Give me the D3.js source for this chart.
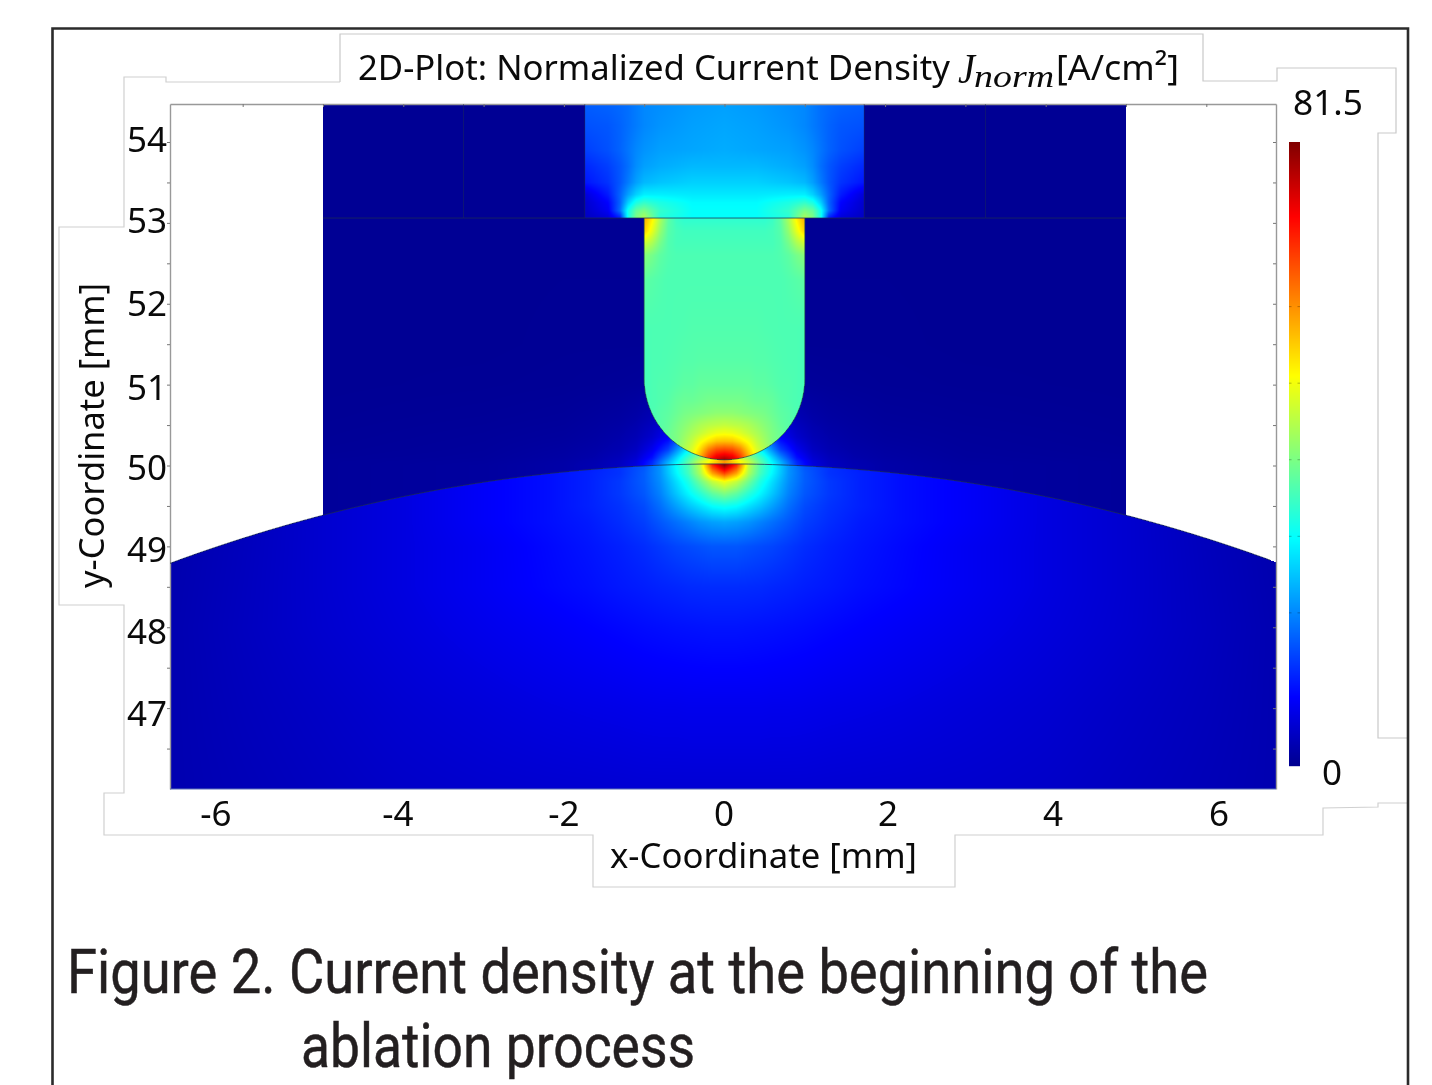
<!DOCTYPE html>
<html><head><meta charset="utf-8">
<script src="https://cdnjs.cloudflare.com/ajax/libs/d3/7.8.5/d3.min.js"></script>
<style>
html,body{margin:0;padding:0;background:#fff;width:1432px;height:1085px;overflow:hidden}
#wrap{position:relative;width:1432px;height:1085px}
canvas{position:absolute;filter:blur(0.7px)}
svg{position:absolute;left:0;top:0}
text{fill:#0a0a0a;font-family:"Noto Sans",sans-serif}
</style></head><body><div id="wrap"></div>
<script>
// ---------- labels ----------
const titleText = "2D-Plot: Normalized Current Density";
const titleUnit = "[A/cm²]";
const xAxisTitle = "x-Coordinate [mm]";
const yAxisTitle = "y-Coordinate [mm]";
const captionLines = ["Figure 2. Current density at the beginning of the", "ablation process"];
const xTickLabels = [-6,-4,-2,0,2,4,6];
const yTickLabels = [54,53,52,51,50,49,48,47];
const colorbarMax = 81.5, colorbarMin = 0;
const colorbarTicks = [20,30,40,50,60];

// ---------- geometry (mm) ----------
const xDomain = [-6.905, 6.868];
const yDomain = [46.0, 54.47];
const blockHalfWidth = 5, chamberHalfWidth = 1.74, innerWallX = 3.25;
const shelfY = 53.06, pinHalfWidth = 1, pinTipY = 50.07;
const surfaceRadius = 20, surfaceTopY = 50.02;

// ---------- estimated current density J, right half (field is mirrored) ----------
const bodyX = [0,.15,.3,.45,.6,.8,1,1.3,1.7,2.2,3,4,5,6,6.9];
const bodyY = [50,49.9,49.8,49.65,49.5,49.3,49,48.5,48,47,46];
const bodyJ = [
 [80,68,46,36,30,21,16,13,11,9.5,8,6,5,3.5,2.4],
 [66,58,44,35,29,21,16.5,13,11.5,10,8.5,6.5,5,3.5,2.4],
 [50,46,39,32,27,20.5,16.5,13.5,11.5,10,8.5,6.5,5,3.5,2.4],
 [40,37.5,33,29,25,19.5,16,13.5,11.5,10,8.5,6.5,5.2,3.5,2.4],
 [31,30,27.5,25,22,18,15,13,11.5,10,8.5,6.5,5.2,3.5,2.4],
 [22.5,22,21,19.5,18,16,14,12.5,11,10,8.5,6.5,5.2,3.5,2.4],
 [16,16,15.5,15,14.5,13.5,12.5,11.5,10.5,9.5,8,6.5,5.2,3.6,2.4],
 [12.5,12.5,12.4,12.3,12,11.7,11.3,10.8,10,9.3,8,6.5,5.2,3.7,2.5],
 [10.5,10.5,10.4,10.3,10.2,10,9.8,9.4,8.9,8.3,7.4,6.2,5.1,3.8,2.6],
 [7.5,7.5,7.5,7.5,7.4,7.4,7.3,7.1,6.9,6.6,6,5.3,4.4,3.5,2.6],
 [5.5,5.5,5.5,5.5,5.5,5.5,5.5,5.4,5.3,5.2,5,4.6,3.9,3.2,2.6]
];
const pinX = [0,.1,.2,.3,.4,.5,.6,.7,.8,.9,1];
const pinY = [50.06,50.12,50.2,50.3,50.4,50.5,50.65,50.8,51,51.3,51.7,52.3,52.6,52.75,52.9,53.06];
const pinJ = [
 [81,77,70,60,52,45,41,39,37,36,35],
 [74,72,66,57,50,44.5,41,39,37,36,35],
 [66,65,61,54,48,44,40.5,39,37,36,35],
 [56,55.5,53,50,46,43,40,38.5,37,36,35],
 [50,49.5,48,46,44,42,40,38.5,37,36,35],
 [46,45.5,45,44,42.5,41,39.5,38,37,36,35.5],
 [41.5,41.5,41,40.5,40,39.5,38.5,37.5,37,36,35.5],
 [39.5,39.5,39.5,39,38.5,38.5,38,37,36.5,36,35.5],
 [38,38,38,38,37.5,37.5,37,36.5,36.5,36,35.5],
 [37,37,37,37,36.8,36.8,36.5,36.3,36,36,35.5],
 [36.5,36.5,36.5,36.5,36.5,36.3,36.2,36,36,36,35.8],
 [36,36,36,36,36,36,36,36,36.5,37,37.5],
 [36,36,36,36,36,36,36,36.5,37.5,39.5,41],
 [35.5,35.5,35.5,35.5,35.5,35.5,35.5,36.5,39.5,44,47],
 [35,35,35,35,35,35,35.5,37,42,49,55],
 [33.5,33.5,33.5,33.5,33.5,33.5,34.5,37.5,44,52,58]
];
const chamberX = [0,.4,.8,1,1.1,1.2,1.3,1.45,1.74];
const chamberY = [53.06,53.15,53.25,53.35,53.5,53.7,53.9,54.2,54.47];
const chamberJ = [
 [30,30,33,44,40,31,11,6,4],
 [30,30,34,40,38,31,18,8,4.5],
 [29.5,29.5,32,34,32,26,17,9,5],
 [28,28,28.5,28.5,26,22,17,11,6],
 [26,26,25,24,22,19,16,13,10.5],
 [24,24,23,22,20.5,18,16,14,12],
 [23,22.5,22,21,20,18.5,17,15.5,14],
 [22.5,22,21,20,19,18,17,16,15.5],
 [22,21.5,20.5,20,19,18,17.5,17,16.5]
];
const blockX = [0,.3,.5,.7,.9,1.1,1.3,1.6,2,3,5];
const blockY = [50,50.05,50.1,50.2,50.35,50.6,51,51.5,53.06];
const blockJ = [
 [60,48,36,25,13,6.5,4,2.8,2,1.3,.9],
 [60,46,34,23,12,6,3.8,2.6,1.9,1.2,.9],
 [55,42,32,20,10,5.2,3.4,2.3,1.7,1.1,.8],
 [50,37,26,14,7.5,4,2.7,2,1.5,1,.7],
 [45,30,18,8.5,5,3,2.2,1.6,1.2,.9,.6],
 [40,20,10,5,3,2,1.5,1.2,.9,.7,.5],
 [30,10,3,1.5,1.1,.9,.8,.7,.6,.5,.4],
 [10,2,.8,.6,.5,.5,.5,.5,.5,.4,.4],
 [.4,.4,.4,.4,.4,.4,.4,.4,.4,.4,.4]
];
const upperBlockJ = 0.4;

// ---------- scales ----------
const plot = {left:170, right:1276, top:104, bottom:789};
const xS = d3.scaleLinear().domain(xDomain).range([plot.left, plot.right]);
const yS = d3.scaleLinear().domain(yDomain).range([plot.bottom, plot.top]);
// tick labels were pasted onto the figure and do not sit exactly on their ticks
const xLabelS = d3.scaleLinear().domain(xTickLabels).range([216,398,564,724,888,1053,1219]);
const yLabelS = d3.scaleLinear().domain(yTickLabels.slice().reverse()).range([714,632,550,468,388,304,221,140]);
const jet = d3.scaleLinear()
  .domain([0,.11,.365,.625,.88,1].map(t=>t*colorbarMax))
  .range(["#00008f","#0000ff","#00ffff","#ffff00","#ff0000","#800000"])
  .clamp(true);

// ---------- field ----------
function makeField(xs, ys, rows){
  const asc = ys[0] < ys[ys.length-1];
  const Y = asc ? ys : ys.slice().reverse();
  const R = (asc ? rows : rows.slice().reverse())
     .map(r => d3.scaleLinear().domain(xs).range(r).clamp(true));
  return (x,y) => {
    let i = d3.bisectRight(Y,y);
    if (i<=0) return R[0](x);
    if (i>=Y.length) return R[Y.length-1](x);
    const f = (y-Y[i-1])/(Y[i]-Y[i-1]);
    return R[i-1](x)*(1-f)+R[i](x)*f;
  };
}
const fBody = makeField(bodyX, bodyY, bodyJ);
const fPin = makeField(pinX, pinY, pinJ);
const fChamber = makeField(chamberX, chamberY, chamberJ);
const fBlock = makeField(blockX, blockY, blockJ);
const lut = d3.range(1001).map(i => d3.rgb(jet(i/1000*colorbarMax)));

const W = plot.right-plot.left, H = plot.bottom-plot.top;
const wrap = d3.select("#wrap");
const cv = wrap.append("canvas").attr("width",W).attr("height",H)
  .style("left",plot.left+"px").style("top",plot.top+"px");
const ctx = cv.node().getContext("2d");
const img = ctx.createImageData(W,H);
const pinCenterY = pinTipY + pinHalfWidth;
const surfY = x => surfaceTopY - surfaceRadius + Math.sqrt(surfaceRadius*surfaceRadius - x*x);
for (let py=0; py<H; py++){
  const y = yS.invert(py+plot.top+.5);
  for (let px=0; px<W; px++){
    const ax = Math.abs(xS.invert(px+plot.left+.5));
    let v = null;
    if (y <= surfY(ax)) v = fBody(ax,y);
    else if (ax <= pinHalfWidth && y <= shelfY && (y>=pinCenterY || (ax*ax+(y-pinCenterY)*(y-pinCenterY) <= pinHalfWidth*pinHalfWidth))) v = fPin(ax,y);
    else if (y > shelfY){
      if (ax <= chamberHalfWidth) v = fChamber(ax,y);
      else if (ax <= blockHalfWidth) v = upperBlockJ;
    } else if (ax <= blockHalfWidth) v = fBlock(ax,y);
    const k = (py*W+px)*4;
    if (v===null){ img.data[k]=img.data[k+1]=img.data[k+2]=255; img.data[k+3]=255; continue; }
    const c = lut[Math.round(v/colorbarMax*1000)];
    img.data[k]=c.r; img.data[k+1]=c.g; img.data[k+2]=c.b; img.data[k+3]=255;
  }
}
ctx.putImageData(img,0,0);

// ---------- svg overlay ----------
const svg = wrap.append("svg").attr("width",1432).attr("height",1085);

// pasted patch outlines
const patchLine = d3.line();
const patch = svg.append("g").attr("fill","none").attr("stroke","#c9c9c9").attr("stroke-width",1.2);
patch.append("path").attr("d", patchLine([[340,82],[340,34],[1203,34],[1203,81],[1277,81],[1277,68],[1396,68],[1396,133],[1378,133],[1378,738],[1407,738]]));
patch.append("path").attr("stroke","#d0d0d0").attr("d", patchLine([[1407,803],[1378,803],[1378,807],[1323,808],[1323,835],[955,835],[955,887],[593,887],[593,835],[104,835],[104,793],[124,793],[124,605],[59,605],[59,227],[124,227],[124,77],[166,77],[166,82],[340,82]]));

// outer border, open at the bottom
svg.append("path").attr("fill","none").attr("stroke","#2b2b2b").attr("stroke-width",2.6)
  .attr("d", patchLine([[52.5,1085],[52.5,28.5],[1408,28.5],[1408,1085]]));

// frame + ticks
const tickColor = "#777";
const styleAxis = g => { g.selectAll("path").attr("stroke","#999").attr("stroke-width",1.4);
  g.selectAll("line").attr("stroke",tickColor); g.selectAll("text").remove(); };
const xt = d3.range(-6,7,1), yt = d3.range(46.5,54.5,.5);
svg.append("g").attr("transform",`translate(0,${plot.top})`)
  .call(d3.axisBottom(xS).tickValues(xt).tickSize(3).tickSizeOuter(0)).call(styleAxis);
svg.append("g").attr("transform",`translate(${plot.left},0)`)
  .call(d3.axisLeft(yS).tickValues(yt).tickSize(3).tickSizeOuter(0)).call(styleAxis);
svg.append("g").attr("transform",`translate(${plot.right},0)`)
  .call(d3.axisLeft(yS).tickValues(yt).tickSize(3).tickSizeOuter(0)).call(styleAxis);
svg.append("line").attr("x1",plot.left).attr("x2",plot.right).attr("y1",plot.bottom).attr("y2",plot.bottom)
  .attr("stroke","#5a6fb8").attr("stroke-width",1.2);

// domain boundaries
const edge = svg.append("g").attr("fill","none").attr("stroke","#1c2c55").attr("stroke-opacity",.75).attr("stroke-width",1);
const surfPts = d3.range(xDomain[0], xDomain[1]+.01, .1).map(x=>[xS(x), yS(surfY(x))]);
edge.append("path").attr("d", d3.line().curve(d3.curveLinear)(surfPts));
edge.append("line").attr("x1",xS(-blockHalfWidth)).attr("x2",xS(blockHalfWidth)).attr("y1",yS(shelfY)).attr("y2",yS(shelfY));
[-innerWallX,innerWallX,-chamberHalfWidth,chamberHalfWidth].forEach(x=>
  edge.append("line").attr("x1",xS(x)).attr("x2",xS(x)).attr("y1",yS(yDomain[1])).attr("y2",yS(shelfY)).attr("stroke-opacity",.45));
const tipPts = d3.range(-90,90.1,3).map(a=>{const r=a*Math.PI/180;return [xS(pinHalfWidth*Math.sin(r)), yS(pinCenterY-pinHalfWidth*Math.cos(r))];});
edge.append("path").attr("d", d3.line()([[xS(-pinHalfWidth),yS(shelfY)],...tipPts,[xS(pinHalfWidth),yS(shelfY)]])).attr("stroke","#24504f");

// colour bar
const cbS = d3.scaleLinear().domain([colorbarMin,colorbarMax]).range([766,142]);
const cb = svg.append("g");
cb.selectAll("rect").data(d3.range(142,766)).join("rect")
  .attr("x",1289).attr("width",11).attr("y",d=>d).attr("height",1.2)
  .attr("fill",d=>jet(cbS.invert(d+.5)));
cb.selectAll("line").data(colorbarTicks).join("line")
  .attr("x1",1289).attr("x2",1300).attr("y1",d=>cbS(d)).attr("y2",d=>cbS(d))
  .attr("stroke","#000").attr("stroke-opacity",.28).attr("stroke-dasharray","2.5 6 2.5");

// texts
const T = (x,y,s,size,len,anchor) => {
  const t = svg.append("text").attr("x",x).attr("y",y).attr("font-size",size).text(s);
  if (anchor) t.attr("text-anchor",anchor);
  if (len) t.attr("textLength",len).attr("lengthAdjust","spacingAndGlyphs");
  return t;
};
T(358,80,titleText,35,592);
T(958,83,"J",42,17).style("font-family","'Liberation Serif',serif").style("font-style","italic");
T(974,87,"norm",32,80).style("font-family","'Liberation Serif',serif").style("font-style","italic");
T(1056,80,titleUnit,35,123);

svg.append("g").selectAll("text").data(xTickLabels).join("text")
  .attr("x",d=>xLabelS(d)).attr("y",826).attr("text-anchor","middle").attr("font-size",35).text(d=>d);
svg.append("g").selectAll("text").data(yTickLabels).join("text")
  .attr("x",167).attr("y",d=>yLabelS(d)+12).attr("text-anchor","end").attr("font-size",35).text(d=>d);
T(610,868,xAxisTitle,35,307);
T(0,0,yAxisTitle,35,305).attr("transform","translate(104,588) rotate(-90)");
T(1293,115,String(colorbarMax),35,70);
T(1332,785,String(colorbarMin),35,null,"middle");

const cap = (x,y,s,len) => T(x,y,s,61,len).style("font-family","Roboto,sans-serif").style("fill","#231f20")
  .style("stroke","#231f20").style("stroke-width",.5);
cap(67,993,captionLines[0],1141);
cap(301,1067,captionLines[1],394);
</script></body></html>
